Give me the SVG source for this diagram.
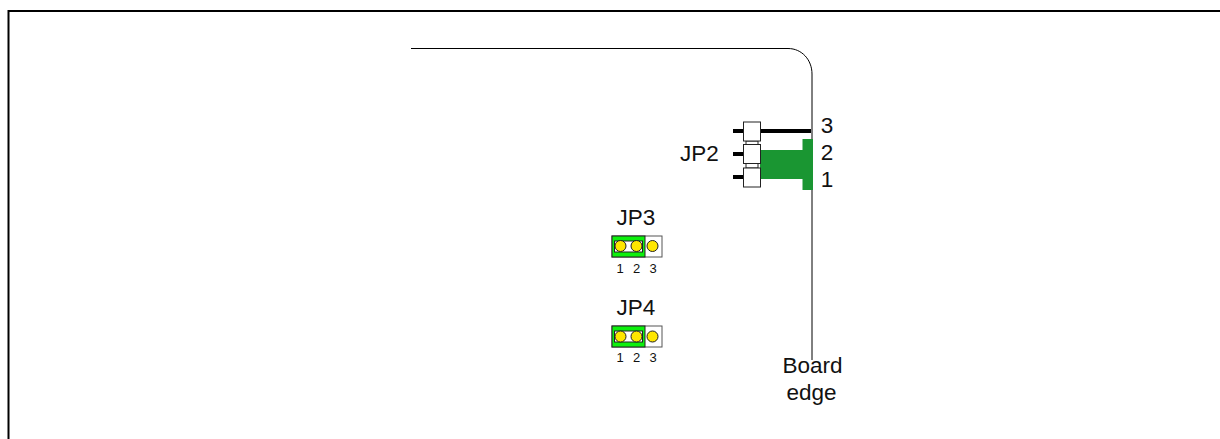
<svg xmlns="http://www.w3.org/2000/svg" width="1220" height="439" viewBox="0 0 1220 439">
<style>
text{font-family:"Liberation Sans",Arial,sans-serif;fill:#111}
.l{font-size:22.500px;text-anchor:middle}
.s{font-size:13px;text-anchor:middle}
.pin{fill:#fff;stroke:#222;stroke-width:1}
.dot{fill:#ffe600;stroke:#222;stroke-width:1}
.bar{fill:none;stroke:#000;stroke-width:4}
.gr{fill:#0ef00e;stroke:#222;stroke-width:1}
.in{fill:#fff;stroke:#222;stroke-width:1}
.body{fill:#fff;stroke:#555;stroke-width:1}
</style>
<rect width="1220" height="439" fill="#fff"/>
<path d="M8.500 439V11H1220" fill="none" stroke="#000" stroke-width="2"/>
<g id="connectors">
<path id="board-edge" d="M411 48.500H788C802 48.500 812 60 812 74V360" fill="none" stroke="#000" stroke-width="1"/>
<path class="bar" d="M733 131H811"/>
<path class="bar" d="M733 154H746"/>
<path class="bar" d="M733 177H746"/>
</g>
<g id="JP2">
<path d="M760 150H802.500V139H813V190H802.500V179H760Z" fill="#1a9632"/>
<rect class="pin" x="746" y="141" width="12" height="4"/>
<rect class="pin" x="746" y="163" width="12" height="5"/>
<rect class="pin" x="743.500" y="122" width="17" height="19"/>
<rect class="pin" x="743.500" y="144.500" width="17" height="19"/>
<rect class="pin" x="743.500" y="168" width="17" height="19"/>
<text class="l" x="699.500" y="161">JP2</text>
<text class="l" x="827" y="133">3</text>
<text class="l" x="827" y="160">2</text>
<text class="l" x="827" y="187">1</text>
</g>
<g id="JP3">
<rect class="body" x="612" y="236" width="50" height="21"/>
<rect class="gr" x="612" y="236" width="33" height="21"/>
<rect class="in" x="614.500" y="241" width="28" height="11"/>
<circle class="dot" cx="620.500" cy="246" r="5.500"/>
<circle class="dot" cx="636.500" cy="246" r="5.500"/>
<circle class="dot" cx="652.500" cy="246" r="5.500"/>
<text class="l" x="636" y="225">JP3</text>
<text class="s" x="620" y="273">1</text>
<text class="s" x="636.500" y="273">2</text>
<text class="s" x="653" y="273">3</text>
</g>
<g id="JP4">
<rect class="body" x="612" y="326" width="50" height="21"/>
<rect class="gr" x="612" y="326" width="33" height="21"/>
<rect class="in" x="614.500" y="331" width="28" height="11"/>
<circle class="dot" cx="620.500" cy="336.500" r="5.500"/>
<circle class="dot" cx="636.500" cy="336.500" r="5.500"/>
<circle class="dot" cx="652.500" cy="336.500" r="5.500"/>
<text class="l" x="636" y="315">JP4</text>
<text class="s" x="620" y="362">1</text>
<text class="s" x="636.500" y="362">2</text>
<text class="s" x="653" y="362">3</text>
</g>
<g id="board-edge-label">
<text class="l" x="812.500" y="373">Board</text>
<text class="l" x="811.500" y="400">edge</text>
</g>
</svg>
